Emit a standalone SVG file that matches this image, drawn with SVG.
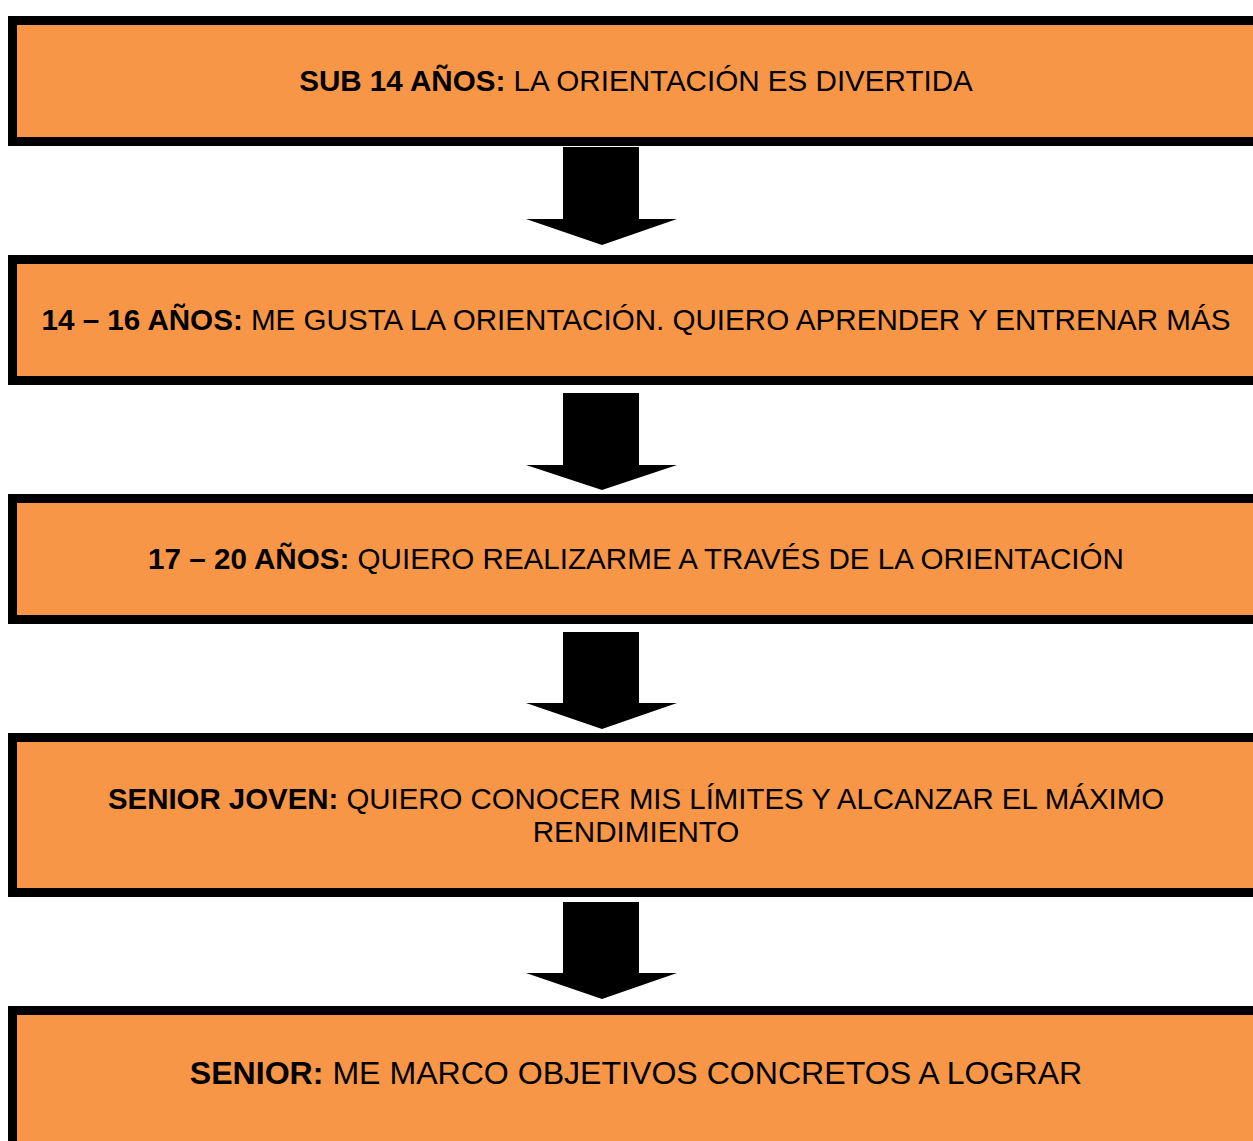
<svg xmlns="http://www.w3.org/2000/svg" width="1253" height="1141" viewBox="0 0 1253 1141">
<style>
.box{fill:#F79646;stroke:#000;stroke-width:9}
.t{font-family:"Liberation Sans",Arial,sans-serif;font-size:29.6px;fill:#000;text-anchor:middle}
.big{font-size:32.1px}
.b{font-weight:bold}
.arr{fill:#000}
</style>
<rect width="1253" height="1141" fill="#fff"/>
<g id="n1"><rect class="box" x="12.5" y="20.5" width="1260" height="121"/>
<text class="t" x="636" y="91"><tspan class="b">SUB 14 AÑOS:</tspan> LA ORIENTACIÓN ES DIVERTIDA</text></g>
<g id="n2"><rect class="box" x="12.5" y="259.5" width="1260" height="121"/>
<text class="t" x="636" y="330"><tspan class="b">14 – 16 AÑOS:</tspan> ME GUSTA LA ORIENTACIÓN. QUIERO APRENDER Y ENTRENAR MÁS</text></g>
<g id="n3"><rect class="box" x="12.5" y="498.5" width="1260" height="121"/>
<text class="t" x="636" y="569"><tspan class="b">17 – 20 AÑOS:</tspan> QUIERO REALIZARME A TRAVÉS DE LA ORIENTACIÓN</text></g>
<g id="n4"><rect class="box" x="12.5" y="737.5" width="1260" height="155"/>
<text class="t" x="636" y="809" textLength="1056" lengthAdjust="spacingAndGlyphs"><tspan class="b">SENIOR JOVEN:</tspan> QUIERO CONOCER MIS LÍMITES Y ALCANZAR EL MÁXIMO</text>
<text class="t" x="636" y="842">RENDIMIENTO</text></g>
<g id="n5"><rect class="box" x="12.5" y="1010.5" width="1260" height="160"/>
<text class="t big" x="636" y="1084"><tspan class="b">SENIOR:</tspan> ME MARCO OBJETIVOS CONCRETOS A LOGRAR</text></g>
<g id="connectors">
<polygon class="arr" points="563,147 639,147 639,219 677,219 602,245 526,219 563,219"/>
<polygon class="arr" points="563,393 639,393 639,465 677,465 602,490 526,465 563,465"/>
<polygon class="arr" points="563,632 639,632 639,703 677,703 602,729 526,703 563,703"/>
<polygon class="arr" points="563,902 639,902 639,973 677,973 602,999 526,973 563,973"/>
</g>
</svg>
